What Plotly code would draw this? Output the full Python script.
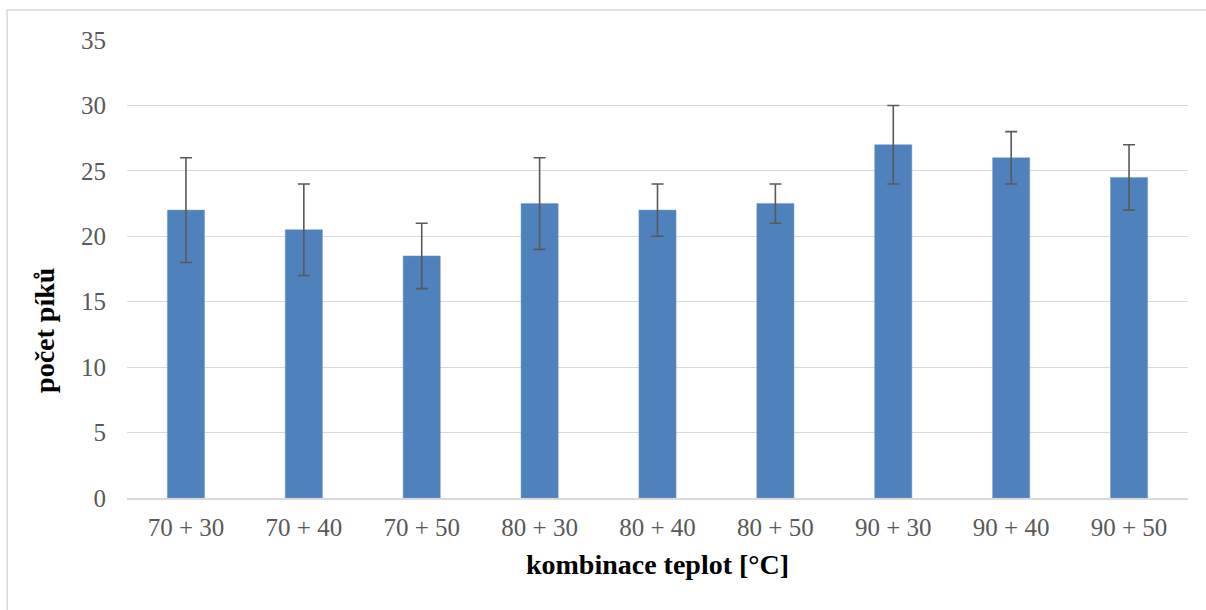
import plotly.graph_objects as go

categories = ["70 + 30", "70 + 40", "70 + 50", "80 + 30", "80 + 40",
              "80 + 50", "90 + 30", "90 + 40", "90 + 50"]
peak_counts = [22, 20.5, 18.5, 22.5, 22, 22.5, 27, 26, 24.5]
peak_errors = [4, 3.5, 2.5, 3.5, 2, 1.5, 3, 2, 2.5]
y_ticks = [0, 5, 10, 15, 20, 25, 30, 35]

serif = "Liberation Serif, DejaVu Serif, serif"

fig = go.Figure(
    go.Bar(
        x=categories,
        y=peak_counts,
        marker=dict(color="#4F81BD", line=dict(color="#6F97CB", width=0.5)),
        error_y=dict(type="data", array=peak_errors, visible=True,
                     color="#595959", thickness=1.6, width=6),
    )
)

fig.update_layout(
    width=1206, height=610,
    margin=dict(l=127, r=18, t=40, b=112),
    paper_bgcolor="white", plot_bgcolor="white",
    bargap=0.685,
    showlegend=False,
    font=dict(family=serif, color="#595959", size=25),
    xaxis=dict(
        showgrid=False, showline=True, linecolor="#D9D9D9", linewidth=1.5,
        ticks="", ticklabelstandoff=6,
        title=dict(text="<b>kombinace teplot [°C]</b>", standoff=15,
                   font=dict(family=serif, size=28, color="black")),
    ),
    yaxis=dict(
        range=[0, 35], tickvals=y_ticks, showgrid=True, gridcolor="#D9D9D9",
        gridwidth=1.2, zeroline=False, showline=False, ticks="",
        ticklabelstandoff=20,
    ),
    annotations=[dict(text="<b>počet píků</b>", textangle=-90,
                      xref="paper", yref="paper", x=-0.0773, y=0.367,
                      xanchor="center", yanchor="middle", showarrow=False,
                      font=dict(family=serif, size=28, color="black"))],
    shapes=[dict(type="rect", xref="paper", yref="paper",
                 x0=-0.113, x1=1.05, y0=-0.27, y1=1.0655,
                 line=dict(color="#D9D9D9", width=1.5), layer="below")],
)

fig.write_html("out.html")
